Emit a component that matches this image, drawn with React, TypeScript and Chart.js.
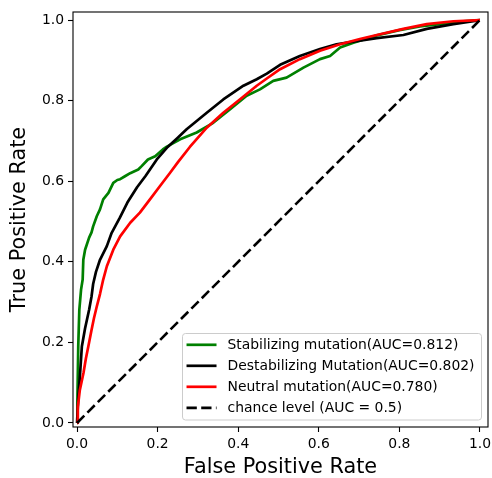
import { useEffect, useRef } from "react";
import { Chart, registerables } from "chart.js";

Chart.register(...registerables);

const FONT = '"DejaVu Sans", sans-serif';

// Stabilizing mutation ROC (green)
const stabFpr = [0, 0.001, 0.003, 0.0057, 0.01, 0.014, 0.0156, 0.02, 0.03, 0.036, 0.04, 0.049, 0.057, 0.065, 0.078, 0.09, 0.1, 0.107, 0.12, 0.132, 0.152, 0.161, 0.176, 0.194, 0.213, 0.223, 0.256, 0.297, 0.338, 0.38, 0.421, 0.454, 0.487, 0.52, 0.562, 0.603, 0.628, 0.653, 0.686, 0.744, 0.8, 0.851, 0.9, 0.95, 1];
const stabTpr = [0, 0.06, 0.19, 0.281, 0.331, 0.356, 0.405, 0.43, 0.46, 0.473, 0.488, 0.513, 0.53, 0.555, 0.571, 0.596, 0.603, 0.605, 0.613, 0.62, 0.629, 0.638, 0.654, 0.662, 0.679, 0.686, 0.704, 0.721, 0.745, 0.779, 0.812, 0.828, 0.849, 0.857, 0.882, 0.903, 0.911, 0.932, 0.944, 0.962, 0.975, 0.984, 0.99, 0.996, 1];

// Destabilizing mutation ROC (black)
const destFpr = [0, 0.003, 0.0074, 0.012, 0.02, 0.03, 0.036, 0.04, 0.047, 0.057, 0.074, 0.086, 0.106, 0.125, 0.149, 0.17, 0.198, 0.225, 0.25, 0.272, 0.322, 0.363, 0.413, 0.446, 0.471, 0.504, 0.553, 0.603, 0.644, 0.702, 0.744, 0.81, 0.868, 0.934, 1];
const destTpr = [0, 0.06, 0.12, 0.19, 0.235, 0.281, 0.314, 0.345, 0.375, 0.405, 0.439, 0.472, 0.509, 0.547, 0.585, 0.613, 0.654, 0.685, 0.708, 0.729, 0.77, 0.803, 0.837, 0.853, 0.867, 0.889, 0.911, 0.928, 0.94, 0.949, 0.955, 0.963, 0.978, 0.99, 1];

// Neutral mutation ROC (red)
const neutFpr = [0, 0.002, 0.007, 0.016, 0.022, 0.028, 0.036, 0.042, 0.049, 0.057, 0.065, 0.074, 0.09, 0.107, 0.132, 0.156, 0.181, 0.206, 0.231, 0.251, 0.28, 0.322, 0.363, 0.404, 0.446, 0.471, 0.504, 0.553, 0.603, 0.653, 0.702, 0.744, 0.81, 0.868, 0.934, 1];
const neutTpr = [0, 0.04, 0.082, 0.124, 0.16, 0.19, 0.231, 0.26, 0.289, 0.32, 0.356, 0.389, 0.43, 0.463, 0.497, 0.522, 0.555, 0.588, 0.621, 0.648, 0.685, 0.733, 0.77, 0.803, 0.837, 0.855, 0.878, 0.903, 0.924, 0.94, 0.953, 0.963, 0.978, 0.99, 0.997, 1];

// Chance level
const chanceFpr = [0, 1];
const chanceTpr = [0, 1];

const seriesLabels = [
  "Stabilizing mutation(AUC=0.812)",
  "Destabilizing Mutation(AUC=0.802)",
  "Neutral mutation(AUC=0.780)",
  "chance level (AUC = 0.5)",
];
const seriesColors = ["#008000", "#000000", "#ff0000", "#000000"];

const axisTicks = [0, 0.2, 0.4, 0.6, 0.8, 1.0];

function pts(xs: number[], ys: number[]) {
  return xs.map((x, i) => ({ x, y: ys[i] }));
}

const framePlugin = {
  id: "frame",
  afterDatasetsDraw(chart: any) {
    const { ctx, chartArea } = chart;
    ctx.save();
    ctx.strokeStyle = "#000";
    ctx.lineWidth = 1.1;
    ctx.strokeRect(chartArea.left, chartArea.top, chartArea.right - chartArea.left, chartArea.bottom - chartArea.top);
    ctx.restore();
  },
};

const legendPlugin = {
  id: "insideLegend",
  afterDraw(chart: any) {
    const { ctx, chartArea } = chart;
    const fs = 13.9;
    ctx.save();
    ctx.font = `${fs}px ${FONT}`;
    let textW = 0;
    seriesLabels.forEach((l) => {
      textW = Math.max(textW, ctx.measureText(l).width);
    });
    const pitch = 21;
    const right = chartArea.right - 6.5;
    const bottom = chartArea.bottom - 7;
    const width = 45 + textW + 7;
    const height = 4 * pitch + 2.5;
    const left = right - width;
    const top = bottom - height;
    const r = 3;
    ctx.beginPath();
    ctx.moveTo(left + r, top);
    ctx.lineTo(right - r, top);
    ctx.quadraticCurveTo(right, top, right, top + r);
    ctx.lineTo(right, bottom - r);
    ctx.quadraticCurveTo(right, bottom, right - r, bottom);
    ctx.lineTo(left + r, bottom);
    ctx.quadraticCurveTo(left, bottom, left, bottom - r);
    ctx.lineTo(left, top + r);
    ctx.quadraticCurveTo(left, top, left + r, top);
    ctx.closePath();
    ctx.fillStyle = "rgba(255,255,255,0.8)";
    ctx.fill();
    ctx.strokeStyle = "#cccccc";
    ctx.lineWidth = 1;
    ctx.stroke();

    seriesLabels.forEach((label, i) => {
      const cy = top + 11.3 + i * pitch;
      const hx = left + 4;
      ctx.beginPath();
      ctx.strokeStyle = seriesColors[i];
      ctx.lineWidth = 2.7;
      if (i === 3) ctx.setLineDash([10.3, 4.4]);
      else ctx.setLineDash([]);
      ctx.moveTo(hx, cy);
      ctx.lineTo(hx + 30, cy);
      ctx.stroke();
      ctx.setLineDash([]);
      ctx.fillStyle = "#000";
      ctx.textBaseline = "middle";
      ctx.textAlign = "left";
      ctx.fillText(label, hx + 41, cy + 0.5);
    });
    ctx.restore();
  },
};

export default function App() {
  const ref = useRef<HTMLCanvasElement>(null);

  useEffect(() => {
    if (!ref.current) return;
    const tickFont = { family: FONT, size: 13.9 };
    const titleFont = { family: FONT, size: 20.8, lineHeight: 1 };
    const chart = new Chart(ref.current, {
      type: "scatter",
      data: {
        datasets: [
          { label: seriesLabels[3], data: pts(chanceFpr, chanceTpr), showLine: true, borderColor: seriesColors[3], borderWidth: 2.6, borderDash: [10.3, 4.4], pointRadius: 0, fill: false, order: 0 },
          { label: seriesLabels[2], data: pts(neutFpr, neutTpr), showLine: true, borderColor: seriesColors[2], borderWidth: 2.7, pointRadius: 0, fill: false, borderJoinStyle: "round", order: 1 },
          { label: seriesLabels[1], data: pts(destFpr, destTpr), showLine: true, borderColor: seriesColors[1], borderWidth: 2.7, pointRadius: 0, fill: false, borderJoinStyle: "round", order: 2 },
          { label: seriesLabels[0], data: pts(stabFpr, stabTpr), showLine: true, borderColor: seriesColors[0], borderWidth: 2.7, pointRadius: 0, fill: false, borderJoinStyle: "round", order: 3 },
        ],
      } as any,
      options: {
        animation: false,
        responsive: false,
        devicePixelRatio: 1,
        events: [],
        layout: { padding: { top: 12, right: 4, left: 0, bottom: 0 } },
        plugins: { legend: { display: false }, tooltip: { enabled: false } },
        scales: {
          x: {
            type: "linear",
            min: -0.01,
            max: 1.02,
            afterBuildTicks: (s: any) => {
              s.ticks = axisTicks.map((v) => ({ value: v }));
            },
            afterFit: (s: any) => {
              s.height = 51;
              s.paddingLeft = 0;
              s.paddingRight = 0;
            },
            grid: { display: true, drawOnChartArea: false, drawTicks: true, tickLength: 5, tickWidth: 1.1, tickColor: "#000" },
            border: { display: false },
            ticks: { color: "#000", font: tickFont, padding: 4, maxRotation: 0, autoSkip: false, callback: (v: any) => Number(v).toFixed(1) },
            title: { display: true, text: "False Positive Rate", color: "#000", font: titleFont, padding: { top: 0, bottom: 0 } },
          },
          y: {
            type: "linear",
            min: -0.01,
            max: 1.02,
            afterBuildTicks: (s: any) => {
              s.ticks = axisTicks.map((v) => ({ value: v }));
            },
            afterFit: (s: any) => {
              s.width = 73;
              s.paddingTop = 0;
              s.paddingBottom = 0;
            },
            grid: { display: true, drawOnChartArea: false, drawTicks: true, tickLength: 5, tickWidth: 1.1, tickColor: "#000" },
            border: { display: false },
            ticks: { color: "#000", font: tickFont, padding: 4, autoSkip: false, callback: (v: any) => Number(v).toFixed(1) },
            title: { display: true, text: "True Positive Rate", color: "#000", font: titleFont, padding: { top: 9.6, bottom: 0 } },
          },
        },
      } as any,
      plugins: [framePlugin, legendPlugin],
    });
    return () => chart.destroy();
  }, []);

  return (
    <div style={{ position: "fixed", left: 0, top: 0, width: 492, height: 478, background: "#fff" }}>
      <canvas ref={ref} width={492} height={478} style={{ display: "block" }} />
    </div>
  );
}
